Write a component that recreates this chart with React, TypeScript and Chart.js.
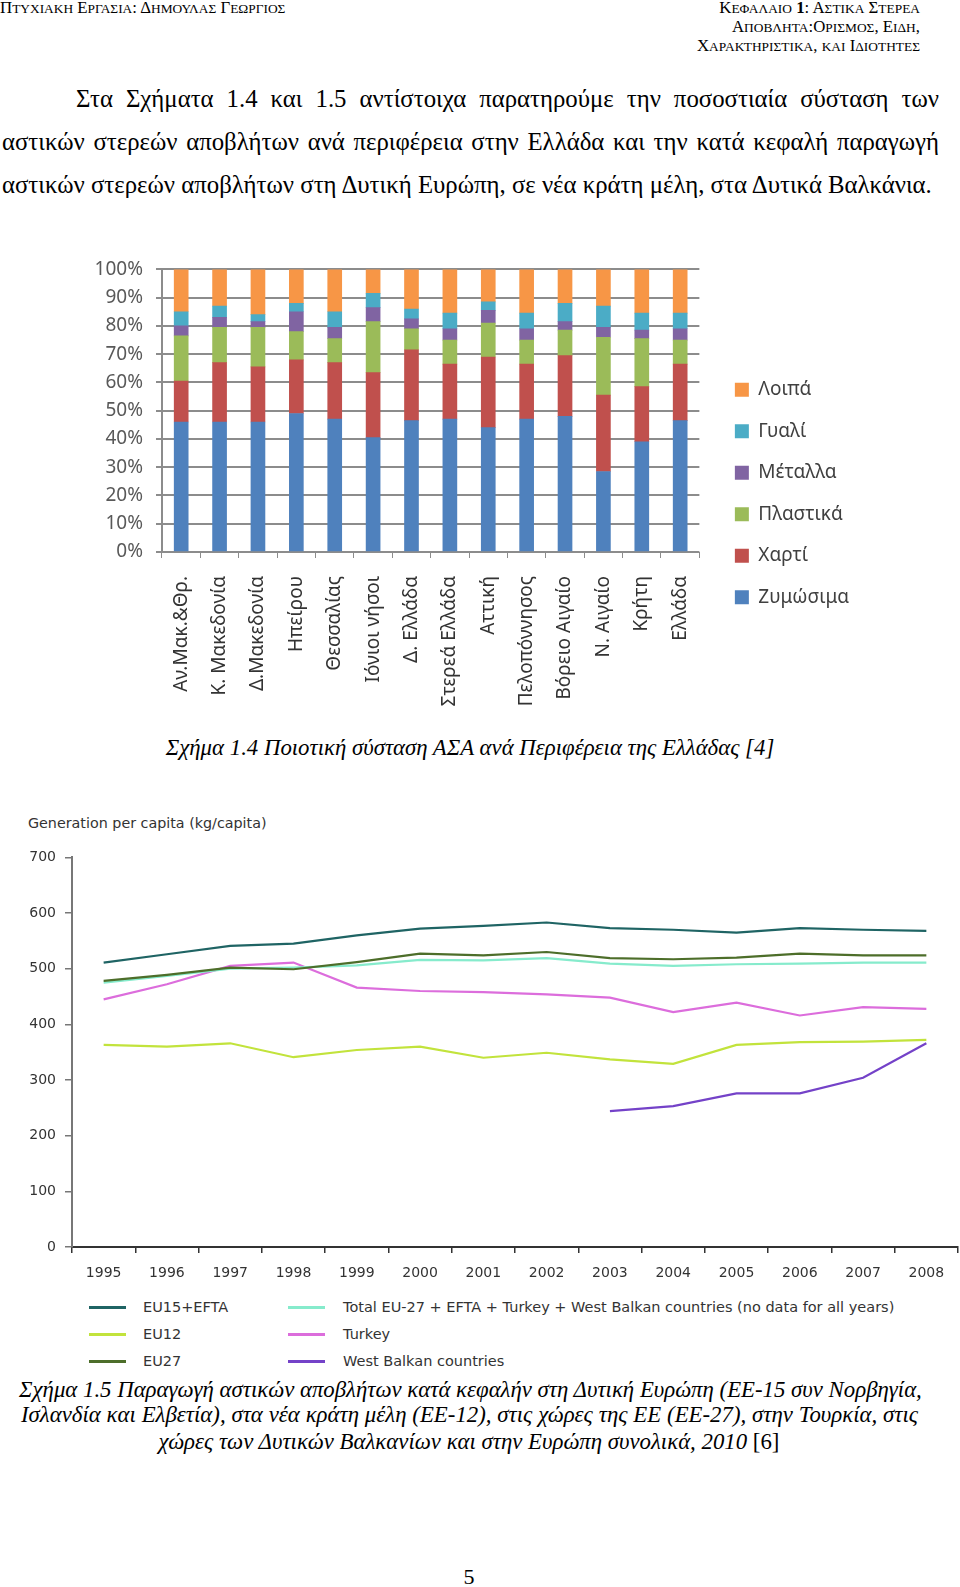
import React, { useEffect, useRef } from "react";
import { Chart, registerables } from "chart.js";
Chart.register(...registerables);

// ---------- Figure 1.4 data ----------
const regions = [
  "Αν.Μακ.&Θρ.", "Κ. Μακεδονία", "Δ.Μακεδονία", "Ηπείρου", "Θεσσαλίας", "Ιόνιοι νήσοι",
  "Δ. Ελλάδα", "Στερεά Ελλάδα", "Αττική", "Πελοπόννησος", "Βόρειο Αιγαίο", "Ν. Αιγαίο", "Κρήτη", "Ελλάδα",
];
const zymosima = [46, 46, 46, 49, 47, 40.5, 46.5, 47, 44, 47, 48, 28.5, 39, 46.5];
const xarti = [14.5, 21, 19.5, 19, 20, 23, 25, 19.5, 25, 19.5, 21.5, 27, 19.5, 20];
const plastika = [16, 12.5, 14, 10, 8.5, 18, 7.5, 8.5, 12, 8.5, 9, 20.5, 17, 8.5];
const metalla = [3.5, 3.5, 2, 7, 4, 5, 3.5, 4, 4.5, 4, 3, 3.5, 3, 4];
const gyali = [5, 4, 2.5, 3, 5.5, 5, 3.5, 5.5, 3, 5.5, 6.5, 7.5, 6, 5.5];
const loipa = [15, 13, 16, 12, 15, 8.5, 14, 15.5, 11.5, 15.5, 12, 13, 15.5, 15.5];
const pctTicks = [0, 10, 20, 30, 40, 50, 60, 70, 80, 90, 100];

// ---------- Figure 1.5 data ----------
const years = ["1995", "1996", "1997", "1998", "1999", "2000", "2001", "2002", "2003", "2004", "2005", "2006", "2007", "2008"];
const eu15efta = [511, 526, 541, 545, 560, 572, 577, 583, 573, 570, 565, 573, 570, 568];
const totalEurope = [475, 487, 500, 502, 506, 516, 515, 519, 509, 505, 508, 509, 511, 511];
const eu12 = [363, 360, 366, 341, 354, 360, 340, 349, 337, 329, 363, 368, 369, 372];
const turkey = [445, 472, 505, 511, 466, 460, 458, 454, 448, 422, 439, 416, 431, 428];
const eu27 = [478, 489, 502, 499, 512, 527, 524, 530, 519, 517, 520, 527, 524, 524];
const westBalkan = [null, null, null, null, null, null, null, null, 244, 253, 276, 276, 304, 366];

const lineSeries = [
  { label: "EU15+EFTA", data: eu15efta, color: "#1f6464" },
  { label: "EU12", data: eu12, color: "#c2e33c" },
  { label: "EU27", data: eu27, color: "#4d6e2a" },
  { label: "Total EU-27 + EFTA + Turkey + West Balkan countries (no data for all years)", data: totalEurope, color: "#86ebcc" },
  { label: "Turkey", data: turkey, color: "#dc6ddc" },
  { label: "West Balkan countries", data: westBalkan, color: "#7442c8" },
];

function BarChart() {
  const ref = useRef<HTMLCanvasElement>(null);
  useEffect(() => {
    const font = { family: "'Noto Sans', sans-serif", size: 19 };
    const chart = new Chart(ref.current!, {
      type: "bar",
      data: {
        labels: regions,
        datasets: [
          { label: "Ζυμώσιμα", data: zymosima, backgroundColor: "#4f81bd" },
          { label: "Χαρτί", data: xarti, backgroundColor: "#c0504d" },
          { label: "Πλαστικά", data: plastika, backgroundColor: "#9bbb59" },
          { label: "Μέταλλα", data: metalla, backgroundColor: "#8064a2" },
          { label: "Γυαλί", data: gyali, backgroundColor: "#4bacc6" },
          { label: "Λοιπά", data: loipa, backgroundColor: "#f79646" },
        ],
      },
      options: {
        animation: false,
        responsive: false,
        layout: { padding: { top: 18, right: 11, left: 0, bottom: 0 } },
        datasets: { bar: { barThickness: 14 } },
        plugins: {
          tooltip: { enabled: false },
          legend: {
            position: "right",
            reverse: true,
            maxWidth: 300,
            labels: { font, color: "#404040", boxWidth: 14, boxHeight: 14, padding: 22.5 },
          },
        },
        scales: {
          x: {
            stacked: true,
            afterFit: (s: any) => { s.height = 172; },
            grid: { drawOnChartArea: false, drawTicks: true, tickLength: 6, color: "#8c8c8c", offset: true },
            border: { display: false },
            ticks: { font, color: "#333333", maxRotation: 90, minRotation: 90, autoSkip: false, padding: 18 },
          },
          y: {
            stacked: true,
            min: 0,
            max: 100,
            afterFit: (s: any) => { s.width = 82; },
            afterBuildTicks: (s: any) => { s.ticks = pctTicks.map((v) => ({ value: v })); },
            grid: { color: "#8c8c8c", lineWidth: 2, tickLength: 6 },
            border: { color: "#8c8c8c", width: 2 },
            ticks: { font, color: "#595959", padding: 13, callback: (v: any) => v + "%" },
          },
          y2: {
            position: "right",
            display: true,
            afterFit: (s: any) => { s.width = 13; },
            grid: { display: false },
            border: { display: false },
            ticks: { display: false },
          },
        },
      },
    } as any);
    return () => chart.destroy();
  }, []);
  return <canvas ref={ref} width={790} height={479} style={{ position: "absolute", left: 80, top: 245 }} />;
}

function LineChart() {
  const ref = useRef<HTMLCanvasElement>(null);
  useEffect(() => {
    const font = { family: "'DejaVu Sans', sans-serif", size: 14 };
    const chart = new Chart(ref.current!, {
      type: "line",
      data: {
        labels: years,
        datasets: lineSeries.map((s) => ({
          label: s.label,
          data: s.data,
          borderColor: s.color,
          backgroundColor: s.color,
          borderWidth: 2.2,
          pointRadius: 0,
          tension: 0,
          spanGaps: false,
        })),
      },
      options: {
        animation: false,
        responsive: false,
        layout: { padding: { top: 15, right: 2, left: 0, bottom: 0 } },
        plugins: { legend: { display: false }, tooltip: { enabled: false } },
        scales: {
          x: {
            offset: true,
            afterFit: (s: any) => { s.height = 43; },
            grid: { drawOnChartArea: false, drawTicks: true, tickLength: 6, color: "#333", offset: true, lineWidth: 1.5 },
            border: { color: "#333", width: 2 },
            ticks: { font, color: "#333", padding: 12, maxRotation: 0, autoSkip: false },
          },
          y: {
            min: 0,
            max: 700,
            afterFit: (s: any) => { s.width = 72; },
            grid: { drawOnChartArea: false, drawTicks: true, tickLength: 7, color: "#777", lineWidth: 1.5 },
            border: { color: "#777", width: 2 },
            ticks: { font, color: "#333", padding: 9, stepSize: 100 },
          },
        },
      },
    } as any);
    return () => chart.destroy();
  }, []);
  return <canvas ref={ref} width={960} height={450} style={{ position: "absolute", left: 0, top: 840 }} />;
}

const serif = "'Liberation Serif', 'Times New Roman', serif";

// synthetic small caps: capitals stay large, lowercase letters become small capitals
function SC({ t, big = 16.8, small = 13.4 }: { t: string; big?: number; small?: number }) {
  const runs: { s: string; low: boolean }[] = [];
  for (const ch of t) {
    const low = ch !== ch.toUpperCase();
    const last = runs[runs.length - 1];
    if (last && last.low === low) last.s += ch;
    else runs.push({ s: ch, low });
  }
  return (
    <>
      {runs.map((r, i) =>
        r.low ? <span key={i} style={{ fontSize: small }}>{r.s.toUpperCase()}</span> : <span key={i} style={{ fontSize: big }}>{r.s}</span>
      )}
    </>
  );
}

function LineLegend() {
  const cols = [lineSeries.slice(0, 3), lineSeries.slice(3)];
  const colX = [[89, 143], [288, 343]];
  return (
    <>
      {cols.map((col, ci) =>
        col.map((s, ri) => (
          <div key={s.label} style={{ position: "absolute", left: colX[ci][0], top: 1307 + ri * 27 - 10, height: 20, display: "flex", alignItems: "center", whiteSpace: "nowrap" }}>
            <div style={{ width: 37, height: 3, background: s.color }} />
            <span style={{ marginLeft: colX[ci][1] - colX[ci][0] - 37, fontFamily: "'DejaVu Sans', sans-serif", fontSize: 14.5, color: "#333" }}>{s.label}</span>
          </div>
        ))
      )}
    </>
  );
}

export default function App() {
  const lineStyle: React.CSSProperties = { position: "absolute", left: 2, width: 937, fontFamily: serif, fontSize: 24.8, lineHeight: "30px", whiteSpace: "nowrap", color: "#000" };
  const capStyle: React.CSSProperties = { position: "absolute", fontFamily: serif, fontSize: 22.8, fontStyle: "italic", lineHeight: "26px", whiteSpace: "nowrap" };
  const hdr: React.CSSProperties = { position: "absolute", fontFamily: serif, fontSize: 13.4, lineHeight: "18px", height: 18, whiteSpace: "nowrap" };
  return (
    <div style={{ position: "absolute", left: 0, top: 0, width: 960, height: 1587, background: "#fff", color: "#000", overflow: "hidden" }}>
      <div style={{ ...hdr, left: 0, top: -1 }}>
        <SC t="Πτυχιακη Εργασια: Δημουλας Γεωργιος" />
      </div>
      <div style={{ ...hdr, right: 40, top: -1, textAlign: "right" }}>
        <SC t="Κεφαλαιο " /><span style={{ fontSize: 16.8, fontWeight: "bold" }}>1</span><SC t=": Αστικα Στερεα" />
      </div>
      <div style={{ ...hdr, right: 40, top: 17.5, textAlign: "right" }}>
        <SC t="Αποβλητα:Ορισμος, Ειδη," />
      </div>
      <div style={{ ...hdr, right: 40, top: 36.5, textAlign: "right" }}>
        <SC t="Χαρακτηριστικα, και Ιδιοτητες" />
      </div>

      <div style={{ ...lineStyle, top: 84, paddingLeft: 74, width: 863, textAlign: "justify", textAlignLast: "justify" }}>
        Στα Σχήματα 1.4 και 1.5 αντίστοιχα παρατηρούμε την ποσοστιαία σύσταση των
      </div>
      <div style={{ ...lineStyle, top: 127, textAlign: "justify", textAlignLast: "justify" }}>
        αστικών στερεών αποβλήτων ανά περιφέρεια στην Ελλάδα και την κατά κεφαλή παραγωγή
      </div>
      <div style={{ ...lineStyle, top: 170 }}>
        αστικών στερεών αποβλήτων στη Δυτική Ευρώπη, σε νέα κράτη μέλη, στα Δυτικά Βαλκάνια.
      </div>

      <BarChart />

      <div style={{ ...capStyle, left: 0, width: 940, top: 734, textAlign: "center", lineHeight: "28px" }}>
        Σχήμα 1.4 Ποιοτική σύσταση ΑΣΑ ανά Περιφέρεια της Ελλάδας [4]
      </div>

      <div style={{ position: "absolute", left: 28, top: 815, fontFamily: "'DejaVu Sans', sans-serif", fontSize: 14.3, color: "#333", whiteSpace: "nowrap" }}>
        Generation per capita (kg/capita)
      </div>

      <LineChart />
      <LineLegend />

      <div style={{ ...capStyle, left: 19, width: 900, top: 1377, textAlign: "justify", textAlignLast: "justify" }}>
        Σχήμα 1.5 Παραγωγή αστικών αποβλήτων κατά κεφαλήν στη Δυτική Ευρώπη (ΕΕ-15 συν Νορβηγία,
      </div>
      <div style={{ ...capStyle, left: 21, width: 897, top: 1402, textAlign: "justify", textAlignLast: "justify" }}>
        Ισλανδία και Ελβετία), στα νέα κράτη μέλη (ΕΕ-12), στις χώρες της ΕΕ (ΕΕ-27), στην Τουρκία, στις
      </div>
      <div style={{ ...capStyle, fontStyle: "normal", left: 0, width: 938, top: 1429, textAlign: "center" }}>
        <i>χώρες των Δυτικών Βαλκανίων και στην Ευρώπη συνολικά, 2010</i> [6]
      </div>

      <div style={{ position: "absolute", left: 0, width: 938, top: 1564, fontFamily: serif, fontSize: 22, lineHeight: "26px", textAlign: "center" }}>
        5
      </div>
    </div>
  );
}
